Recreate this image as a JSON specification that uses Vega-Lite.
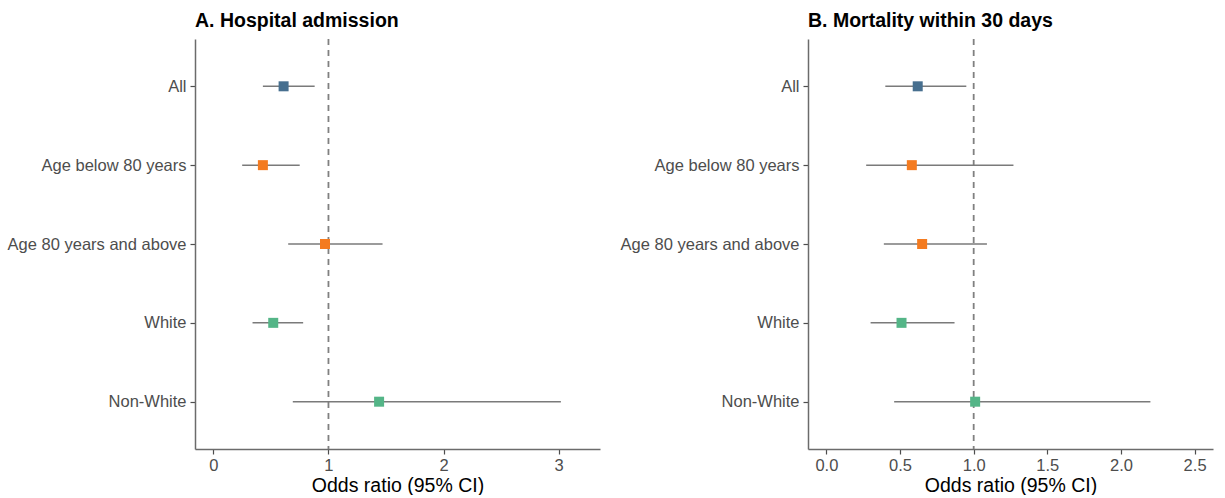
{
  "$schema": "https://vega.github.io/schema/vega-lite/v6.json",
  "padding": {"left": 7, "top": 10, "right": 5, "bottom": 0},
  "background": "white",
  "spacing": 20,
  "config": {
    "font": "Liberation Sans",
    "view": {"stroke": null},
    "axis": {
      "grid": false,
      "domainColor": "#6b6b6b",
      "domainWidth": 1.5,
      "tickColor": "#4d4d4d",
      "tickWidth": 1.2,
      "tickSize": 5,
      "labelColor": "#4d4d4d",
      "labelFontSize": 16.5,
      "labelPadding": 4,
      "titleFontSize": 19.5,
      "titleFontWeight": "normal",
      "titleColor": "black"
    },
    "axisX": {"labelPadding": 3, "titlePadding": 3}
  },
  "datasets": {
    "d": [
      {"outcome": "A", "group": "All", "cat": "all", "or": 0.61, "lo": 0.43, "hi": 0.88},
      {"outcome": "A", "group": "Age below 80 years", "cat": "age", "or": 0.43, "lo": 0.25, "hi": 0.75},
      {"outcome": "A", "group": "Age 80 years and above", "cat": "age", "or": 0.97, "lo": 0.65, "hi": 1.47},
      {"outcome": "A", "group": "White", "cat": "eth", "or": 0.52, "lo": 0.34, "hi": 0.78},
      {"outcome": "A", "group": "Non-White", "cat": "eth", "or": 1.44, "lo": 0.69, "hi": 3.02},
      {"outcome": "B", "group": "All", "cat": "all", "or": 0.62, "lo": 0.40, "hi": 0.95},
      {"outcome": "B", "group": "Age below 80 years", "cat": "age", "or": 0.58, "lo": 0.27, "hi": 1.27},
      {"outcome": "B", "group": "Age 80 years and above", "cat": "age", "or": 0.65, "lo": 0.39, "hi": 1.09},
      {"outcome": "B", "group": "White", "cat": "eth", "or": 0.51, "lo": 0.30, "hi": 0.87},
      {"outcome": "B", "group": "Non-White", "cat": "eth", "or": 1.01, "lo": 0.46, "hi": 2.20}
    ]
  },
  "hconcat": [
    {
      "title": {"text": "A. Hospital admission", "anchor": "start", "frame": "group", "fontSize": 19.5, "fontWeight": "bold", "color": "black", "offset": 7},
      "width": 405,
      "height": 410,
      "layer": [
        {
          "data": {"values": [{"ref": 1}]},
          "mark": {"type": "rule", "strokeDash": [6, 5], "color": "#808080", "strokeWidth": 1.8},
          "encoding": {"x": {"field": "ref", "type": "quantitative"}}
        },
        {
          "data": {"name": "d"},
          "transform": [{"filter": "datum.outcome === 'A'"}],
          "mark": {"type": "rule", "color": "#7a7a7a", "strokeWidth": 1.5},
          "encoding": {
            "y": {"field": "group", "type": "nominal", "sort": ["All", "Age below 80 years", "Age 80 years and above", "White", "Non-White"], "scale": {"type": "point", "padding": 0.6}, "axis": {"title": null}},
            "x": {"field": "lo", "type": "quantitative"},
            "x2": {"field": "hi"}
          }
        },
        {
          "data": {"name": "d"},
          "transform": [{"filter": "datum.outcome === 'A'"}],
          "mark": {"type": "point", "shape": "square", "filled": true, "size": 100, "opacity": 1},
          "encoding": {
            "y": {"field": "group", "type": "nominal", "sort": ["All", "Age below 80 years", "Age 80 years and above", "White", "Non-White"]},
            "x": {"field": "or", "type": "quantitative"},
            "color": {"field": "cat", "type": "nominal", "scale": {"domain": ["all", "age", "eth"], "range": ["#476f8f", "#f47b20", "#54b587"]}, "legend": null}
          }
        }
      ],
      "encoding": {
        "x": {"type": "quantitative", "scale": {"domain": [-0.16, 3.36], "nice": false, "zero": false}, "axis": {"values": [0, 1, 2, 3], "title": "Odds ratio (95% CI)"}}
      }
    },
    {
      "title": {"text": "B. Mortality within 30 days", "anchor": "start", "frame": "group", "fontSize": 19.5, "fontWeight": "bold", "color": "black", "offset": 7},
      "width": 405,
      "height": 410,
      "layer": [
        {
          "data": {"values": [{"ref": 1}]},
          "mark": {"type": "rule", "strokeDash": [6, 5], "color": "#808080", "strokeWidth": 1.8},
          "encoding": {"x": {"field": "ref", "type": "quantitative"}}
        },
        {
          "data": {"name": "d"},
          "transform": [{"filter": "datum.outcome === 'B'"}],
          "mark": {"type": "rule", "color": "#7a7a7a", "strokeWidth": 1.5},
          "encoding": {
            "y": {"field": "group", "type": "nominal", "sort": ["All", "Age below 80 years", "Age 80 years and above", "White", "Non-White"], "scale": {"type": "point", "padding": 0.6}, "axis": {"title": null}},
            "x": {"field": "lo", "type": "quantitative"},
            "x2": {"field": "hi"}
          }
        },
        {
          "data": {"name": "d"},
          "transform": [{"filter": "datum.outcome === 'B'"}],
          "mark": {"type": "point", "shape": "square", "filled": true, "size": 100, "opacity": 1},
          "encoding": {
            "y": {"field": "group", "type": "nominal", "sort": ["All", "Age below 80 years", "Age 80 years and above", "White", "Non-White"]},
            "x": {"field": "or", "type": "quantitative"},
            "color": {"field": "cat", "type": "nominal", "scale": {"domain": ["all", "age", "eth"], "range": ["#476f8f", "#f47b20", "#54b587"]}, "legend": null}
          }
        }
      ],
      "encoding": {
        "x": {"type": "quantitative", "scale": {"domain": [-0.125, 2.625], "nice": false, "zero": false}, "axis": {"values": [0, 0.5, 1, 1.5, 2, 2.5], "format": ".1f", "title": "Odds ratio (95% CI)"}}
      }
    }
  ]
}
